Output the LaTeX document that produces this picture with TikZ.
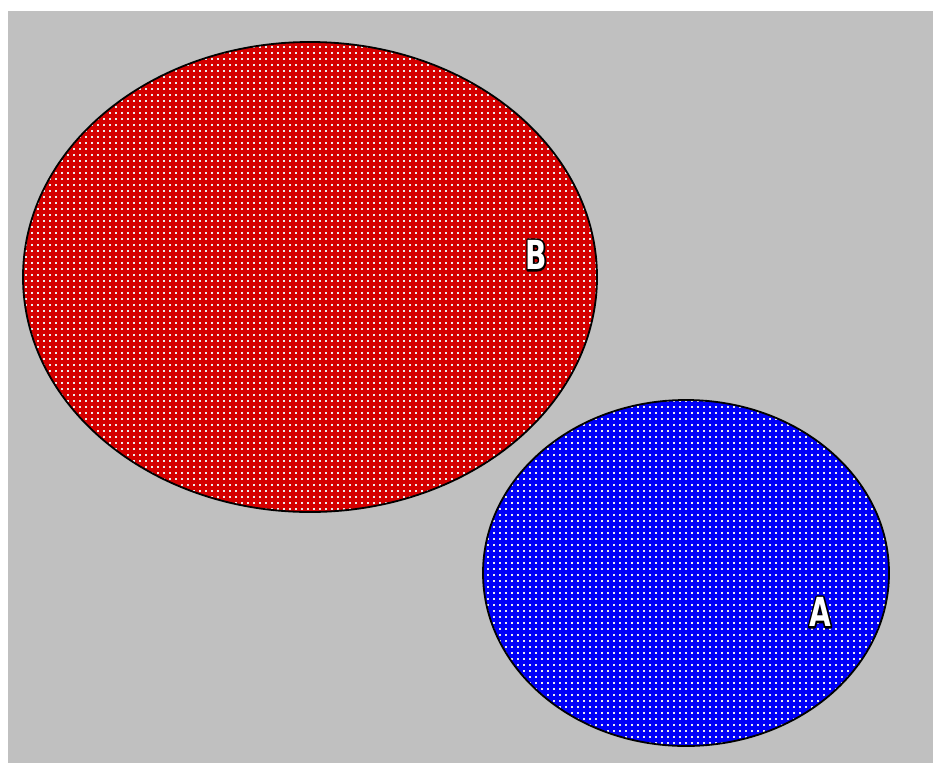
\documentclass[tikz,border=0pt]{standalone}
\usepackage{fontspec}
\newfontfamily\labelfont{DejaVu Sans Condensed}
\usetikzlibrary{positioning, shapes.geometric, patterns.meta}
\definecolor{canvas}{HTML}{C0C0C0}
\definecolor{set_b}{HTML}{D40000}
\definecolor{set_a}{HTML}{0000F8}
% white letters with a black stroke round them
\newcommand{\outlined}[1]{%
  \rlap{\special{pdf:literal 0 0 0 RG 4 w 1 j 1 Tr}#1\special{pdf:literal 0 Tr}}#1}

\tikzdeclarepattern{
    name=speckle,
    type=uncolored,
    bottom left={(-.1pt,-.1pt)},
    top right={(6.1pt,6.1pt)},
    tile size={(6pt,6pt)},
    code={
        \pgfpathrectangle{\pgfpoint{1pt}{1pt}}{\pgfpoint{2.2pt}{2.2pt}}
        \pgfusepath{fill}
    }
}

\begin{document}
\begin{tikzpicture}[
    x=1pt, y=-1pt,
    setshape/.style={
        draw=black,
        line width=1.8pt,
        ellipse,
        inner sep=0pt,
        pattern={speckle},
        pattern color=white!70!canvas
    },
    setlabel/.style={
        font=\labelfont\bfseries\fontsize{40}{40}\selectfont,
        text=white,
        inner sep=0pt
    }
]

\useasboundingbox (0,0) rectangle (933,763);
\fill[canvas] (8,11) rectangle (933,763);

% the two sets
\fill[set_b] (310,277) ellipse [x radius=287, y radius=235];
\node[setshape, minimum width=574pt, minimum height=470pt] (B) at (310,277) {};
\fill[set_a] (686,573) ellipse [x radius=203, y radius=173];
\node[setshape, minimum width=406pt, minimum height=346pt] (A) at (686,573) {};

\node[setlabel] (labelB) at (536,255) {\scalebox{0.78}[1]{\outlined{B}}};
\node[setlabel] (labelA) at (820,612) {\scalebox{0.78}[1]{\outlined{A}}};

\end{tikzpicture}
\end{document}
